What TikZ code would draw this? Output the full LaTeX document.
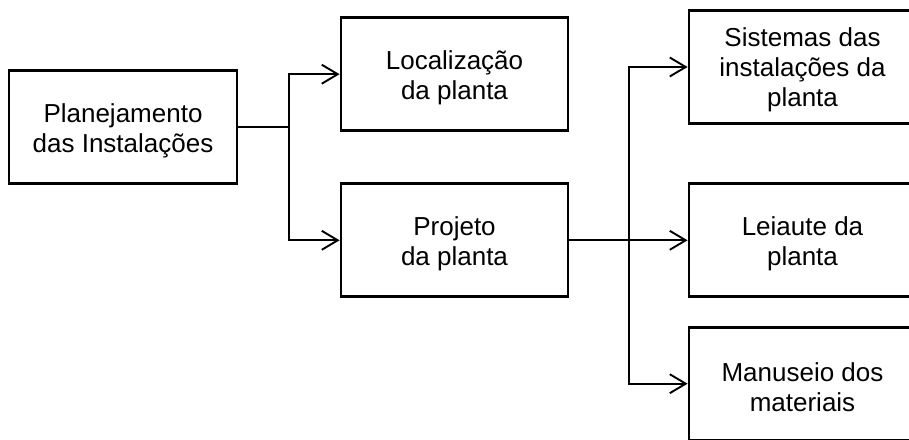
\documentclass[tikz,border=0pt]{standalone}
\usepackage{fontspec}
\setmainfont{Liberation Sans}
\usetikzlibrary{arrows.meta}
% strut on the first line, so each text block sits a little lower in its box
\newcommand\toppad{\rule{0pt}{25pt}}
\begin{document}
\begin{tikzpicture}[x=1pt,y=-1pt,
  box/.style={draw, line width=2.8pt, inner sep=0pt, minimum width=227pt,
    minimum height=113pt, align=center, font=\fontsize{26}{30}\selectfont},
  conn/.style={line width=1.9pt},
  arr/.style={conn, -{Straight Barb[length=16pt,width=19pt,line width=1.9pt]}}]
  \useasboundingbox (0,0) rectangle (909,439);
  \clip (0,0) rectangle (909,439);
  % boxes
  \node[box, minimum width=228pt] (plan) at (123,127.3) {\toppad Planejamento\\das Instalações};
  \node[box] (loc) at (454.5,74.2) {\toppad Localização\\da planta};
  \node[box] (proj) at (454.5,240.3) {\toppad Projeto\\da planta};
  \node[box] (sis) at (802.5,67) {\toppad Sistemas das\\instalações da\\planta};
  \node[box] (lei) at (802.5,240.3) {\toppad Leiaute da\\planta};
  \node[box] (man) at (802.5,383.7) {\toppad Manuseio dos\\materiais};
  % junction points
  \coordinate (j1) at (289,127.3);
  \coordinate (j2) at (629,240.3);
  % connectors
  \draw[conn] (plan.east) -- (j1);
  \draw[arr] (j1) |- (loc.west);
  \draw[arr] (j1) |- (proj.west);
  \draw[conn] (proj.east) -- (j2);
  \draw[arr] (j2) |- (sis.west);
  \draw[arr] (j2) -- (lei.west);
  \draw[arr] (j2) |- (man.west);
\end{tikzpicture}
\end{document}
